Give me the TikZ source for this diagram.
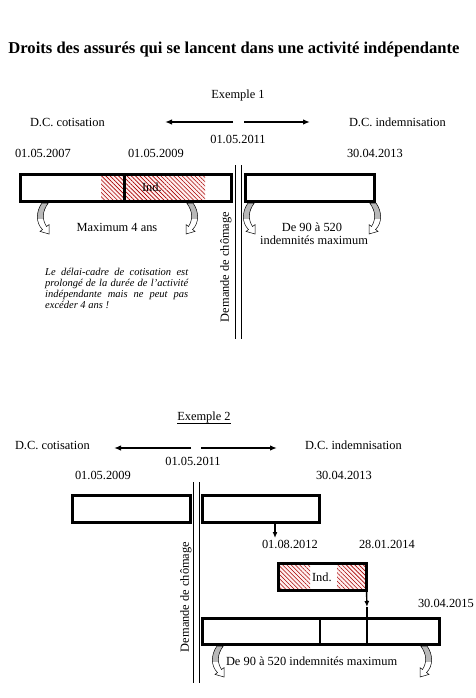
\documentclass[tikz,border=0pt]{standalone}
\usepackage{fontspec}
\setmainfont{Liberation Serif}
\usetikzlibrary{arrows.meta,patterns.meta}
\begin{document}
\begin{tikzpicture}[x=1pt,y=-1pt,
  txt/.style={inner sep=0pt,outer sep=0pt,font=\fontsize{12.4}{14}\selectfont},
  para/.style={inner sep=0pt,anchor=base west,font=\itshape\fontsize{10.5}{11}\selectfont},
  box/.style={draw=black,line width=3pt,inner sep=0pt,outer sep=0pt,rectangle},
  hatch/.style={fill=red!6,postaction={pattern={Lines[angle=-45,distance=3pt,line width=0.6pt]},pattern color=red!65!black}},
  dbl/.style={line width=0.9pt},
  harrow/.style={line width=1.6pt,-{Latex[length=7pt,width=5.5pt]}},
  darrow/.style={line width=1.4pt,-{Latex[length=6pt,width=5pt]}},
  curvshape/.style={insert path={(4,0) -- (9,0) .. controls (4,7) and (4,13) .. (7.6,18.8) -- (9.6,17.3) -- (9.6,24.8) -- (2.4,22.7) -- (4.4,21.2) .. controls (-1,16) and (-1,7) .. (4,0) -- cycle}},
  curvl/.pic={
    \path[fill=white,curvshape];
    \begin{scope}\clip (-3,-1) rectangle (13,12.5);\path[fill=gray!55,curvshape];\end{scope}
    \path[draw=black,line width=0.5pt,curvshape];
  }]
\useasboundingbox (0,0) rectangle (476,698);
\fill[white] (0,0) rectangle (476,698);

% Title
\node[txt,anchor=base,font=\bfseries\fontsize{16.6}{18}\selectfont] (title) at (234,54) {Droits des assurés qui se lancent dans une activité indépendante};

% ================= Exemple 1 =================
\node[txt,anchor=base] (ex1) at (238,99) {Exemple 1};
\node[txt,anchor=base west] (dc1) at (30,127) {D.C. cotisation};
\node[txt,anchor=base west] (di1) at (349,127) {D.C. indemnisation};
\node[txt,anchor=base] (d11) at (238,143) {01.05.2011};
\node[txt,anchor=base west] (d07) at (15,157) {01.05.2007};
\node[txt,anchor=base west] (d09a) at (128,157) {01.05.2009};
\node[txt,anchor=base west] (d13a) at (347,157) {30.04.2013};

\coordinate (a1l) at (233,122); \coordinate (a1le) at (165,122);
\coordinate (a1r) at (244,122); \coordinate (a1re) at (310,122);
\draw[harrow] (a1l) -- (a1le);
\draw[harrow] (a1r) -- (a1re);

% hatched part
\path[hatch] (101,175.5) rectangle (205,200.5);
\node[box,minimum width=211pt,minimum height=27pt] (b1l) at (126,188) {};
\draw[line width=3pt] (124,174.5) -- (124,201.5);
\node[box,minimum width=129pt,minimum height=27pt] (b1r) at (310,188) {};
\node[txt,anchor=base west] (ind1) at (142,191) {Ind.};

% double line
\coordinate (v1t) at (235,165); \coordinate (v1b) at (235,339);
\draw[dbl] (v1t) -- (v1b);
\draw[dbl] ([xshift=6pt]v1t) -- ([xshift=6pt]v1b);
\node[txt,rotate=90] (dem1) at (226,267) {Demande de chômage};

% curved arrows
\pic[scale=1.25] at (37,203) {curvl};
\pic[xscale=-1.25,yscale=1.25] at (198,203) {curvl};
\pic[scale=1.25] at (243,203) {curvl};
\pic[xscale=-1.25,yscale=1.25] at (381,203) {curvl};

\node[txt,anchor=base] (max4) at (117,231) {Maximum 4 ans};
\node[txt,anchor=base] (de1a) at (312,231) {De 90 à 520};
\node[txt,anchor=base] (de1b) at (314,244) {indemnités maximum};

\node[para] (p1) at (45,275) {\makebox[143pt][s]{Le délai-cadre de cotisation est}};
\node[para] (p2) at (45,286) {\makebox[143pt][s]{prolongé de la durée de l’activité}};
\node[para] (p3) at (45,297) {\makebox[143pt][s]{indépendante mais ne peut pas}};
\node[para] (p4) at (45,308) {excéder 4 ans !};

% ================= Exemple 2 =================
\node[txt,anchor=base] (ex2) at (204,420) {Exemple 2};
\draw[line width=0.7pt] ([yshift=-3pt]ex2.base west) -- ([yshift=-3pt]ex2.base east);
\node[txt,anchor=base west] (dc2) at (15,449) {D.C. cotisation};
\node[txt,anchor=base west] (di2) at (305,449) {D.C. indemnisation};
\node[txt,anchor=base] (d11b) at (193,465) {01.05.2011};
\node[txt,anchor=base west] (d09b) at (75,479) {01.05.2009};
\node[txt,anchor=base west] (d13b) at (316,479) {30.04.2013};

\coordinate (a2l) at (191,448); \coordinate (a2le) at (114,448);
\coordinate (a2r) at (201,448); \coordinate (a2re) at (277,448);
\draw[harrow] (a2l) -- (a2le);
\draw[harrow] (a2r) -- (a2re);

\coordinate (v2t) at (193,482); \coordinate (v2b) at (193,683);
\draw[dbl] (v2t) -- (v2b);
\draw[dbl] ([xshift=6pt]v2t) -- ([xshift=6pt]v2b);
\node[txt,rotate=90] (dem2) at (186,597) {Demande de chômage};

\node[box,minimum width=118pt,minimum height=27pt] (b2l) at (131.5,509) {};
\node[box,minimum width=117pt,minimum height=27pt] (b2r) at (261,509) {};

\coordinate (a3e) at (275,538);
\draw[darrow] (b2r.south -| a3e) -- (a3e);
\node[txt,anchor=base west] (d0812) at (262,548) {01.08.2012};
\node[txt,anchor=base west] (d2801) at (359,548) {28.01.2014};

\path[hatch] (280,565) rectangle (310,589);
\path[hatch] (337,565) rectangle (365,589);
\node[box,minimum width=88pt,minimum height=27pt] (ind2box) at (322.5,577) {};
\node[txt,anchor=base west] (ind2) at (312,581) {Ind.};

\node[txt,anchor=base west] (d15) at (418,607) {30.04.2015};
\node[box,minimum width=237pt,minimum height=26pt] (big) at (321,631.5) {};
\coordinate (a4m) at (367,607);
\draw[darrow] (ind2box.south east) -- (a4m);
\draw[line width=1.4pt] (a4m) -- (big.south -| a4m);
\coordinate (divb) at (320,0);
\draw[line width=1.4pt] (big.north -| divb) -- (big.south -| divb);

\pic[scale=1.25] at (212,646) {curvl};
\pic[xscale=-1.25,yscale=1.25] at (432,646) {curvl};
\node[txt,anchor=base west] (de2) at (226,665) {De 90 à 520 indemnités maximum};
\end{tikzpicture}
\end{document}
